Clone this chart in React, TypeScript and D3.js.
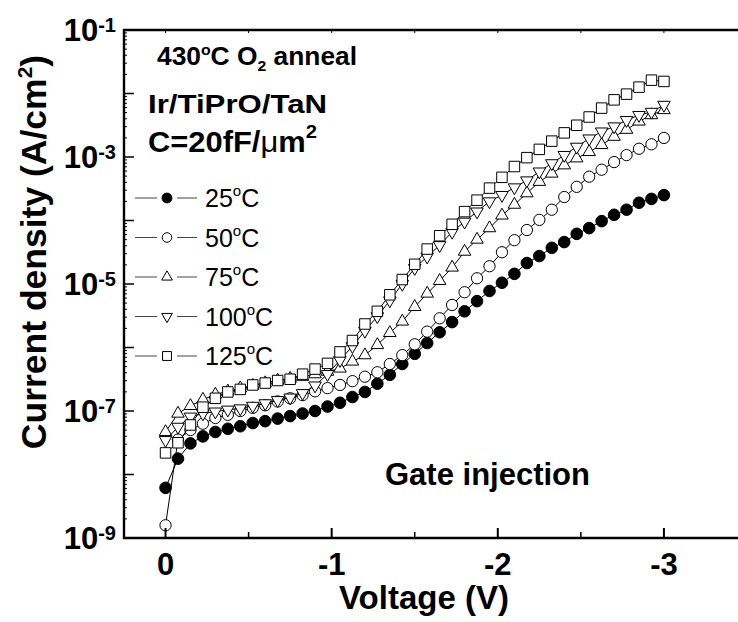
import React, { useEffect, useRef } from "react";
import * as d3 from "d3";

// gate voltage (V), sweep 0 -> -3 V
const voltages = [
  0, -0.075, -0.15, -0.225, -0.3, -0.375, -0.45, -0.525, -0.6, -0.675, -0.75,
  -0.825, -0.9, -0.975, -1.05, -1.125, -1.2, -1.275, -1.35, -1.425, -1.5,
  -1.575, -1.65, -1.725, -1.8, -1.875, -1.95, -2.025, -2.1, -2.175, -2.25,
  -2.325, -2.4, -2.475, -2.55, -2.625, -2.7, -2.775, -2.85, -2.925, -3.0,
];

// log10 of current density (A/cm^2)
const logJ25 = [
  -8.21, -7.75, -7.51, -7.4, -7.33, -7.28, -7.24, -7.19, -7.16, -7.12, -7.08,
  -7.04, -7.0, -6.93, -6.87, -6.78, -6.7, -6.57, -6.43, -6.26, -6.1, -5.93,
  -5.76, -5.6, -5.43, -5.27, -5.11, -4.98, -4.84, -4.67, -4.56, -4.43, -4.34,
  -4.21, -4.12, -4.01, -3.91, -3.83, -3.72, -3.66, -3.6,
];
const logJ50 = [
  -8.8, -7.45, -7.3, -7.2, -7.11, -7.06, -7.0, -6.95, -6.91, -6.85, -6.8,
  -6.75, -6.69, -6.64, -6.59, -6.53, -6.46, -6.39, -6.26, -6.12, -5.95, -5.75,
  -5.54, -5.33, -5.13, -4.91, -4.72, -4.5, -4.31, -4.15, -3.99, -3.83, -3.63,
  -3.47, -3.31, -3.2, -3.08, -2.97, -2.87, -2.8, -2.7,
];
const logJ75 = [
  -7.33, -7.04, -6.92, -6.82, -6.74, -6.69, -6.64, -6.6, -6.56, -6.52, -6.49,
  -6.46, -6.42, -6.38, -6.33, -6.22, -6.12, -5.96, -5.77, -5.59, -5.36, -5.15,
  -4.95, -4.74, -4.49, -4.3, -4.12, -3.92, -3.75, -3.57, -3.39, -3.26, -3.13,
  -3.02, -2.92, -2.81, -2.68, -2.57, -2.44, -2.34, -2.26,
];
const logJ100 = [
  -7.46, -7.25, -7.09, -7.04, -7.01, -6.98, -6.96, -6.92, -6.88, -6.83, -6.79,
  -6.72, -6.6, -6.42, -6.2, -5.98, -5.74, -5.51, -5.26, -5.0, -4.75, -4.57,
  -4.39, -4.18, -4.02, -3.86, -3.7, -3.6, -3.48, -3.37, -3.23, -3.1, -2.97,
  -2.84, -2.71, -2.6, -2.52, -2.42, -2.34, -2.29, -2.18,
];
const logJ125 = [
  -7.66, -7.5, -7.22, -6.94, -6.8, -6.7, -6.66, -6.59, -6.56, -6.52, -6.5,
  -6.42, -6.34, -6.25, -6.07, -5.89, -5.63, -5.43, -5.17, -4.93, -4.69, -4.45,
  -4.24, -4.06, -3.86, -3.68, -3.49, -3.32, -3.15, -3.01, -2.88, -2.75, -2.62,
  -2.5, -2.37, -2.23, -2.1, -2.01, -1.9, -1.79, -1.81,
];

const temps = ["25", "50", "75", "100", "125"];
const seriesLogs = [logJ25, logJ50, logJ75, logJ100, logJ125];

const xMajorTicks = [0, -1, -2, -3];
const xMinorTicks = [-0.5, -1.5, -2.5];
const xTopTicks = [0, -0.5, -1, -1.5, -2, -2.5, -3];
const yLabelExps = [-9, -7, -5, -3, -1];

const FONT = "'Liberation Sans', Arial, Helvetica, sans-serif";

export default function App() {
  const ref = useRef<SVGSVGElement>(null);

  useEffect(() => {
    if (!ref.current) return;
    const svg = d3.select(ref.current);
    svg.selectAll("*").remove();

    const x = d3.scaleLinear().domain([0.25, -3.5]).range([124, 747]);
    const y = d3.scaleLog().domain([1e-9, 1e-1]).range([538, 30]);
    const [xl, xr] = x.range();
    const [yb, yt] = y.range();

    // marker shapes per series
    const markers = [
      { type: d3.symbolCircle, size: 106, fill: "#000", rot: 0 },
      { type: d3.symbolCircle, size: 100, fill: "#fff", rot: 0 },
      { type: d3.symbolTriangle, size: 68, fill: "#fff", rot: 0 },
      { type: d3.symbolTriangle, size: 68, fill: "#fff", rot: 180 },
      { type: d3.symbolSquare, size: 110, fill: "#fff", rot: 0 },
    ];

    // data
    const plot = svg.append("g");
    seriesLogs.forEach((logs, si) => {
      const pts = logs.map((l, i) => [voltages[i], Math.pow(10, l)] as [number, number]);
      const line = d3
        .line<[number, number]>()
        .x((d) => x(d[0]))
        .y((d) => y(d[1]));
      plot
        .append("path")
        .attr("d", line(pts))
        .attr("fill", "none")
        .attr("stroke", "#000")
        .attr("stroke-width", 1);
      const m = markers[si];
      const sym = d3.symbol().type(m.type).size(m.size)();
      plot
        .append("g")
        .selectAll("path")
        .data(pts)
        .enter()
        .append("path")
        .attr("d", sym)
        .attr("transform", (d) => `translate(${x(d[0])},${y(d[1])}) rotate(${m.rot})`)
        .attr("fill", m.fill)
        .attr("stroke", "#000")
        .attr("stroke-width", 1);
    });

    // frame
    const ax = svg.append("g").attr("stroke", "#000").attr("fill", "none");
    ax.append("path")
      .attr("d", `M${xr},${yt}H${xl}V${yb}H${xr}`)
      .attr("stroke-width", 2.4);

    // x ticks
    xMajorTicks.forEach((v) => {
      ax.append("line").attr("x1", x(v)).attr("x2", x(v)).attr("y1", yb).attr("y2", yb - 10).attr("stroke-width", 2);
    });
    xMinorTicks.forEach((v) => {
      ax.append("line").attr("x1", x(v)).attr("x2", x(v)).attr("y1", yb).attr("y2", yb - 6).attr("stroke-width", 1.5);
    });
    xTopTicks.forEach((v) => {
      ax.append("line").attr("x1", x(v)).attr("x2", x(v)).attr("y1", yt).attr("y2", yt + 3).attr("stroke-width", 1);
    });

    // y ticks (log)
    for (let e = -9; e <= -1; e++) {
      const v = Math.pow(10, e);
      ax.append("line").attr("x1", xl).attr("x2", xl + 10).attr("y1", y(v)).attr("y2", y(v)).attr("stroke-width", 1.5);
      if (e < -1) {
        for (let k = 2; k <= 9; k++) {
          const yy = y(k * v);
          ax.append("line").attr("x1", xl).attr("x2", xl + 3).attr("y1", yy).attr("y2", yy).attr("stroke-width", 1);
        }
      }
    }

    const txt = svg.append("g").attr("font-family", FONT).attr("fill", "#000");

    // y tick labels
    yLabelExps.forEach((e) => {
      const t = txt
        .append("text")
        .attr("x", 116)
        .attr("y", y(Math.pow(10, e)) + 11)
        .attr("text-anchor", "end")
        .attr("font-weight", "bold")
        .attr("font-size", 31);
      t.append("tspan").text("10");
      t.append("tspan").attr("font-size", 20).attr("dy", -9).text(String(e));
    });

    // x tick labels
    xMajorTicks.forEach((v) => {
      txt
        .append("text")
        .attr("x", x(v))
        .attr("y", 575)
        .attr("text-anchor", "middle")
        .attr("font-weight", "bold")
        .attr("font-size", 31)
        .text(v === 0 ? "0" : `-${Math.abs(v)}`);
    });

    // axis titles
    txt
      .append("text")
      .attr("x", 424)
      .attr("y", 609)
      .attr("text-anchor", "middle")
      .attr("font-weight", "bold")
      .attr("font-size", 33)
      .text("Voltage (V)");

    const yt2 = txt
      .append("text")
      .attr("transform", "translate(46,252) rotate(-90)")
      .attr("text-anchor", "middle")
      .attr("font-weight", "bold")
      .attr("font-size", 35.5);
    yt2.append("tspan").text("Current density (A/cm");
    yt2.append("tspan").attr("font-size", 21).attr("dy", -14).text("2");
    yt2.append("tspan").attr("dy", 14).text(")");

    // annotations
    const a1 = txt
      .append("text")
      .attr("x", 157)
      .attr("y", 65)
      .attr("font-weight", "bold")
      .attr("font-size", 25)
      .attr("textLength", 200)
      .attr("lengthAdjust", "spacingAndGlyphs");
    a1.append("tspan").text("430");
    a1.append("tspan").attr("font-size", 15).attr("dy", -10).text("o");
    a1.append("tspan").attr("dy", 10).text("C O");
    a1.append("tspan").attr("font-size", 15).attr("dy", 6).text("2");
    a1.append("tspan").attr("dy", -6).text(" anneal");

    txt
      .append("text")
      .attr("x", 148)
      .attr("y", 113)
      .attr("font-weight", "bold")
      .attr("font-size", 25)
      .attr("textLength", 179)
      .attr("lengthAdjust", "spacingAndGlyphs")
      .text("Ir/TiPrO/TaN");

    const a3 = txt
      .append("text")
      .attr("x", 148)
      .attr("y", 152)
      .attr("font-weight", "bold")
      .attr("font-size", 29)
      .attr("textLength", 169)
      .attr("lengthAdjust", "spacingAndGlyphs");
    a3.append("tspan").text("C=20fF/");
    a3.append("tspan").attr("font-weight", "normal").text("\u03bc");
    a3.append("tspan").text("m");
    a3.append("tspan").attr("font-size", 19).attr("dy", -14).text("2");

    txt
      .append("text")
      .attr("x", 385)
      .attr("y", 485)
      .attr("font-weight", "bold")
      .attr("font-size", 31)
      .text("Gate injection");

    // legend
    const lg = svg.append("g");
    temps.forEach((tLabel, i) => {
      const base = 207 + i * 39.5;
      const my = base - 9;
      lg.append("line").attr("x1", 135).attr("x2", 157).attr("y1", my).attr("y2", my).attr("stroke", "#444").attr("stroke-width", 1);
      lg.append("line").attr("x1", 177).attr("x2", 197).attr("y1", my).attr("y2", my).attr("stroke", "#444").attr("stroke-width", 1);
      const m = markers[i];
      lg.append("path")
        .attr("d", d3.symbol().type(m.type).size(m.size * 0.72)())
        .attr("transform", `translate(167,${my}) rotate(${m.rot})`)
        .attr("fill", m.fill)
        .attr("stroke", "#000")
        .attr("stroke-width", 1);
      const t = lg
        .append("text")
        .attr("x", 205)
        .attr("y", base)
        .attr("font-family", FONT)
        .attr("font-size", 25);
      t.append("tspan").text(tLabel);
      t.append("tspan").attr("font-size", 15).attr("dy", -11).text("o");
      t.append("tspan").attr("dy", 11).text("C");
    });
  }, []);

  return (
    <svg
      ref={ref}
      width={738}
      height={622}
      style={{ position: "absolute", left: 0, top: 0, background: "#fff" }}
    />
  );
}
